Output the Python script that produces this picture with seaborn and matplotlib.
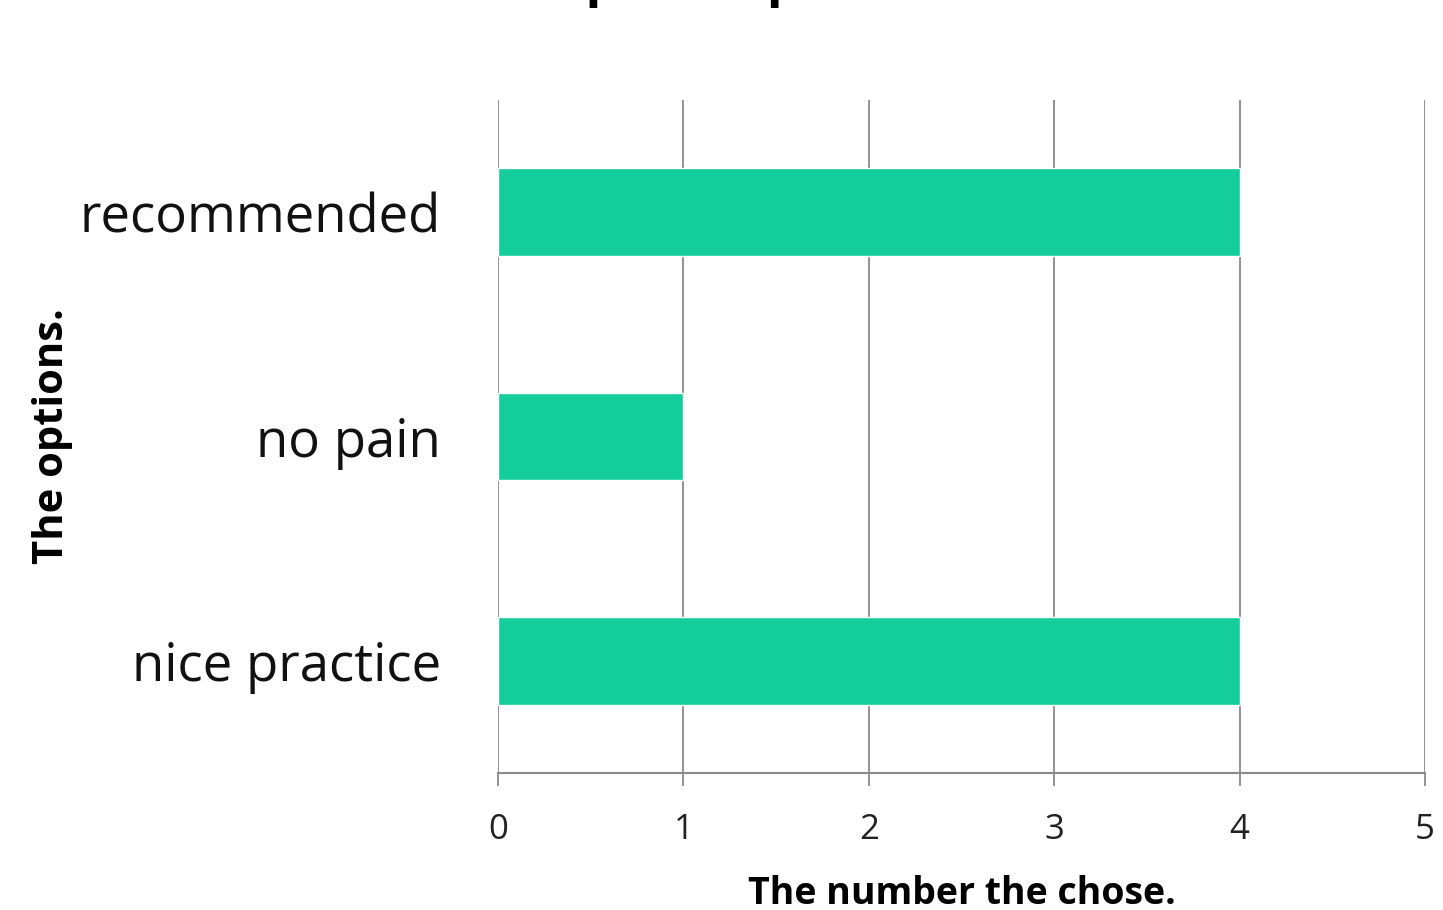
import matplotlib
matplotlib.use("Agg")
import matplotlib.pyplot as plt
import seaborn as sns
import pandas as pd

categories = ["recommended", "no pain", "nice practice"]
counts = [4, 1, 4]
x_ticks = [0, 1, 2, 3, 4, 5]

title_text = "Student opinion poll"
x_label = "The number the chose."
y_label = "The options."

sns.set_theme(style="white")
plt.rcParams["font.family"] = ["Open Sans", "DejaVu Sans"]

df = pd.DataFrame({"option": categories, "count": counts})

fig = plt.figure(figsize=(14.43, 9.10), dpi=100)
ax = fig.add_axes([498 / 1443, 1 - 773 / 910, (1425 - 498) / 1443, (773 - 100) / 910])

sns.barplot(data=df, y="option", x="count", orient="h", color="#13CE9B",
            saturation=1, width=0.39, ax=ax, zorder=3)

grid_c = "#8A8A8A"
ax.set_xlim(0, 5)
ax.set_ylim(2.5, -0.5)
ax.set_xticks(x_ticks)
ax.set_xticklabels([str(t) for t in x_ticks], fontsize=25, color="#222222")
ax.xaxis.grid(True, color=grid_c, linewidth=1.3, zorder=0)
ax.yaxis.grid(False)
for side in ["top", "right", "left"]:
    ax.spines[side].set_visible(False)
ax.spines["bottom"].set_color(grid_c)
ax.spines["bottom"].set_linewidth(1.5)
ax.tick_params(axis="x", which="both", bottom=True, length=9, width=1.3,
               color=grid_c, pad=20)
ax.tick_params(axis="y", left=False, labelsize=38, pad=35)
for lbl in ax.get_yticklabels():
    lbl.set_color("#111111")

ax.set_xlabel(x_label, fontsize=27, fontweight="bold", labelpad=20, color="black")
ax.set_ylabel(y_label, fontsize=30, fontweight="bold", labelpad=5, color="black")

fig.text(0.414, 1.006, title_text, ha="center", va="baseline", fontsize=38,
         fontweight="bold", color="black")

fig.savefig("out.png", dpi=100)
